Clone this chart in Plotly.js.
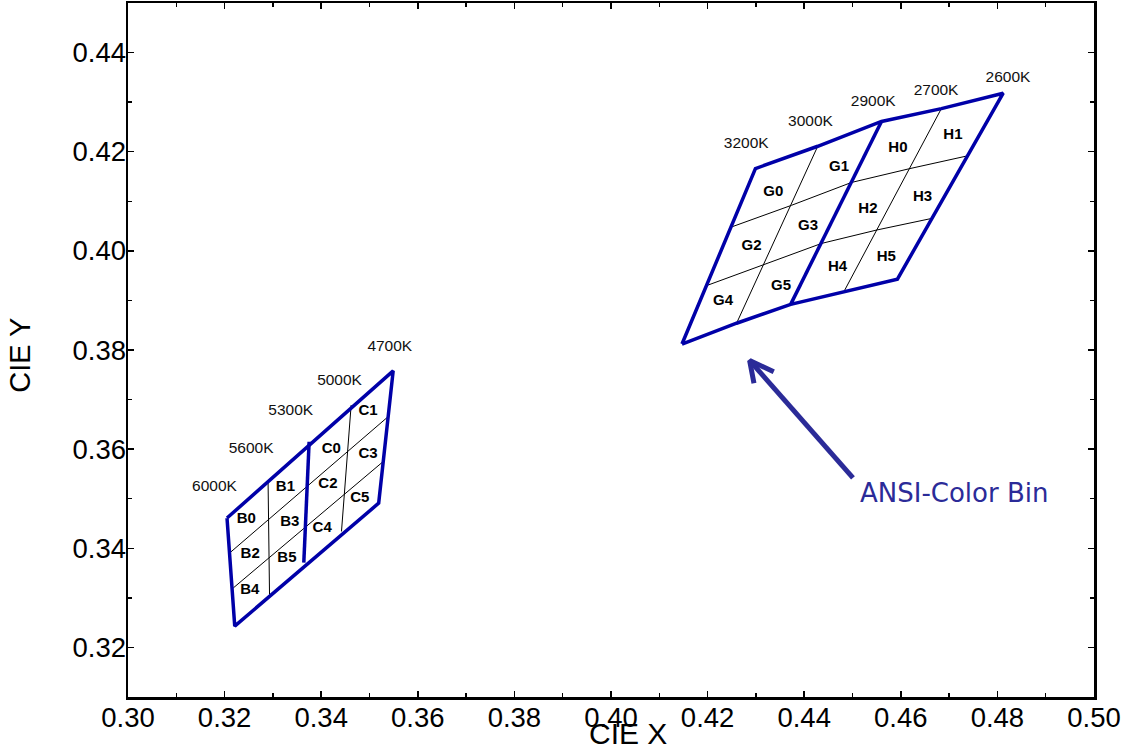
<!DOCTYPE html>
<html>
<head>
<meta charset="utf-8">
<script src="https://cdn.plot.ly/plotly-3.0.1.min.js"></script>
<style>html,body{margin:0;padding:0;background:#fff;}#chart{width:1126px;height:753px;}</style>
</head>
<body>
<div id="chart"></div>
<script>
// ---- Left quadrangle (B / C bins) ----
const leftOutlineX = [0.3205, 0.3549, 0.3519, 0.3221, 0.3205];
const leftOutlineY = [0.3461, 0.3758, 0.3491, 0.3243, 0.3461];
const leftDividerX = [0.3375, 0.3364];
const leftDividerY = [0.3615, 0.3371];
const bMidX = [0.3290, 0.3293];
const bMidY = [0.3535, 0.3307];
const cMidX = [0.3462, 0.3442];
const cMidY = [0.3689, 0.3434];
const leftUpperX = [0.3211, 0.3538];
const leftUpperY = [0.3391, 0.3665];
const leftLowerX = [0.3218, 0.3526];
const leftLowerY = [0.3320, 0.3573];

// ---- Right quadrangle (G / H bins) ----
const rightOutlineX = [0.4147, 0.4299, 0.4428, 0.4560, 0.4684, 0.4812, 0.4593, 0.4372, 0.4260, 0.4147];
const rightOutlineY = [0.3812, 0.4166, 0.4211, 0.4261, 0.4287, 0.4318, 0.3943, 0.3892, 0.3854, 0.3812];
const rightDividerX = [0.4560, 0.4372];
const rightDividerY = [0.4261, 0.3892];
const gMidX = [0.4428, 0.4260];
const gMidY = [0.4211, 0.3854];
const hMidX = [0.4684, 0.4484];
const hMidY = [0.4287, 0.3921];
const rightUpperX = [0.4249, 0.4374, 0.4498, 0.4619, 0.4735];
const rightUpperY = [0.4048, 0.4092, 0.4138, 0.4166, 0.4191];
const rightLowerX = [0.4201, 0.4317, 0.4436, 0.4550, 0.4662];
const rightLowerY = [0.3931, 0.3973, 0.4015, 0.4042, 0.4065];

// ---- Bin labels ----
const binNames = ["B0","B2","B4","B1","B3","B5","C0","C2","C4","C1","C3","C5",
                  "G0","G1","G2","G3","G4","G5","H0","H1","H2","H3","H4","H5"];
const binX = [0.3245,0.3253,0.3252,0.3326,0.3335,0.3329,0.3421,0.3414,0.3402,0.3497,0.3497,0.3480,
              0.4336,0.4472,0.4291,0.4408,0.4232,0.4352,0.4594,0.4708,0.4532,0.4645,0.4469,0.4570];
const binY = [0.3458,0.3387,0.3315,0.3523,0.3452,0.3380,0.3600,0.3530,0.3441,0.3677,0.3589,0.3500,
              0.4119,0.4169,0.4009,0.4050,0.3899,0.3929,0.4208,0.4233,0.4083,0.4109,0.3967,0.3987];

// ---- CCT labels ----
const cctNames = ["6000K","5600K","5300K","5000K","4700K","3200K","3000K","2900K","2700K","2600K"];
const cctX = [0.3179,0.3255,0.3337,0.3438,0.3542,0.4280,0.4413,0.4543,0.4673,0.4822];
const cctY = [0.3524,0.3600,0.3676,0.3738,0.3806,0.4216,0.4259,0.4300,0.4323,0.4348];

// ---- Arrow (ANSI-Color Bin) ----
const arrowShaftX = [0.4501, 0.4287];
const arrowShaftY = [0.3542, 0.3779];
const arrowHeadX = [0.4296, 0.4287, 0.4337];
const arrowHeadY = [0.3733, 0.3779, 0.3756];
const arrowText = "ANSI-Color Bin";
const arrowTextX = 0.4511;
const arrowTextY = 0.3512;

const BLUE = "#0000a8";
const ARROW = "#2b2b98";
const FONT = "Liberation Sans, Arial, sans-serif";

function thin(x, y) {
  return {x: x, y: y, mode: "lines", line: {color: "#000", width: 1}, hoverinfo: "skip", showlegend: false};
}
function thick(x, y) {
  return {x: x, y: y, mode: "lines", line: {color: BLUE, width: 3.5, join: "miter"}, hoverinfo: "skip", showlegend: false};
}

const traces = [
  thin(bMidX, bMidY), thin(cMidX, cMidY), thin(leftUpperX, leftUpperY), thin(leftLowerX, leftLowerY),
  thin(gMidX, gMidY), thin(hMidX, hMidY), thin(rightUpperX, rightUpperY), thin(rightLowerX, rightLowerY),
  thick(leftOutlineX, leftOutlineY), thick(leftDividerX, leftDividerY),
  thick(rightOutlineX, rightOutlineY), thick(rightDividerX, rightDividerY),
  {x: binX, y: binY, text: binNames, mode: "text", textposition: "middle center",
   textfont: {family: FONT, size: 15, color: "#000", weight: "bold"}, hoverinfo: "skip", showlegend: false},
  {x: cctX, y: cctY, text: cctNames, mode: "text", textposition: "middle center",
   textfont: {family: FONT, size: 15.5, color: "#111"}, hoverinfo: "skip", showlegend: false},
  {x: arrowShaftX, y: arrowShaftY, mode: "lines", line: {color: ARROW, width: 5}, hoverinfo: "skip", showlegend: false},
  {x: arrowHeadX, y: arrowHeadY, mode: "lines", line: {color: ARROW, width: 5}, hoverinfo: "skip", showlegend: false}
];

const axisCommon = {
  showgrid: false, zeroline: false, showline: true, linecolor: "#000", linewidth: 2.5,
  mirror: "ticks", ticks: "inside", ticklen: 6, tickwidth: 1.5, tickcolor: "#000",
  tickformat: ".2f", tickfont: {family: FONT, size: 27.5, color: "#000"},
  ticklabelstandoff: -6,
  minor: {dtick: 0.01, ticks: "inside", ticklen: 4, tickwidth: 1.5, tickcolor: "#000"}
};

const layout = {
  width: 1126, height: 753,
  margin: {l: 128, r: 32, t: 3, b: 56},
  paper_bgcolor: "#fff", plot_bgcolor: "#fff",
  xaxis: Object.assign({}, axisCommon, {range: [0.30, 0.50], dtick: 0.02, tick0: 0.30}),
  yaxis: Object.assign({}, axisCommon, {range: [0.31, 0.45], dtick: 0.02, tick0: 0.32}),
  annotations: [
    {text: "CIE X", xref: "paper", yref: "paper", x: 0.5176, y: -0.0533, xanchor: "center", yanchor: "middle",
     showarrow: false, font: {family: FONT, size: 30, color: "#000"}},
    {text: "CIE Y", xref: "paper", yref: "paper", x: -0.112, y: 0.4928, xanchor: "center", yanchor: "middle",
     textangle: -90, showarrow: false, font: {family: FONT, size: 29, color: "#000"}},
    {text: arrowText, xref: "x", yref: "y", x: arrowTextX, y: arrowTextY, xanchor: "left", yanchor: "middle",
     showarrow: false, font: {family: "DejaVu Sans, Verdana, sans-serif", size: 26, color: ARROW}}
  ]
};

Plotly.newPlot("chart", traces, layout, {displayModeBar: false, staticPlot: true});
</script>
</body>
</html>
